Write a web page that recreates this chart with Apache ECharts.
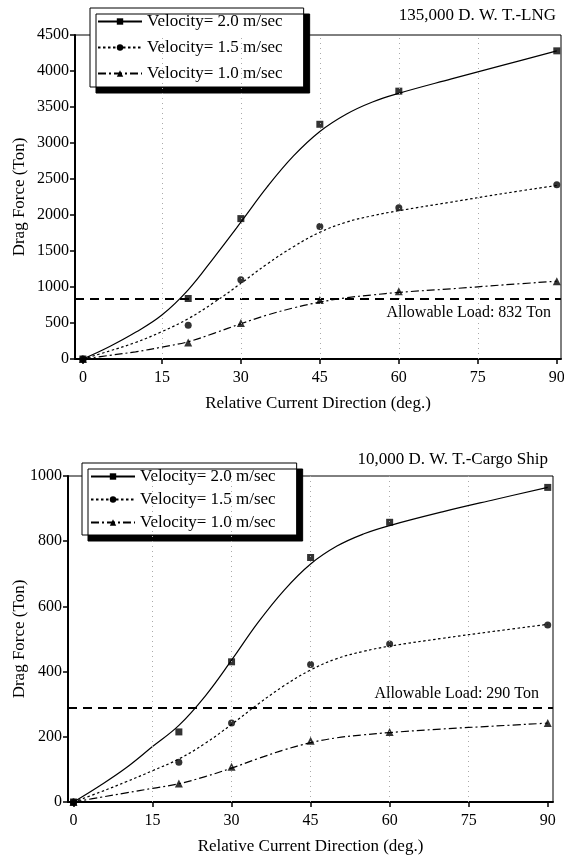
<!DOCTYPE html>
<html><head><meta charset="utf-8">
<script src="https://cdn.jsdelivr.net/npm/echarts@6/dist/echarts.min.js"></script>
<style>html,body{margin:0;padding:0;background:#fff}#c{width:564px;height:859px}</style>
</head><body><div id="c"></div>
<script>
// ---- shared ----
const xTickValues = [0, 15, 30, 45, 60, 75, 90];
const gridLineX = [15, 30, 45, 60, 75];
const pointX = [0, 20, 30, 45, 60, 90];
const curveX = [0, 5, 10, 15, 20, 25, 30, 35, 40, 45, 50, 55, 60, 70, 80, 90];
const seriesNames = ['Velocity= 2.0 m/sec', 'Velocity= 1.5 m/sec', 'Velocity= 1.0 m/sec'];

// ---- top: 135,000 D.W.T. LNG ----
const lngTitle = '135,000 D. W. T.-LNG';
const lngPts20 = [0, 840, 1950, 3260, 3720, 4280];
const lngPts15 = [0, 470, 1100, 1840, 2100, 2420];
const lngPts10 = [0, 230, 500, 820, 940, 1080];
const lngCurve20 = [0, 170, 370, 610, 960, 1420, 1900, 2390, 2820, 3160, 3400, 3570, 3690, 3890, 4085, 4280];
const lngCurve15 = [0, 110, 230, 380, 560, 790, 1050, 1320, 1560, 1760, 1900, 1990, 2060, 2180, 2300, 2410];
const lngCurve10 = [0, 50, 100, 165, 240, 360, 490, 610, 710, 790, 850, 890, 925, 975, 1030, 1080];
const lngAllowable = 832;

// ---- bottom: 10,000 D.W.T. Cargo ship ----
const cargoTitle = '10,000 D. W. T.-Cargo Ship';
const cargoPts20 = [0, 215, 430, 750, 858, 965];
const cargoPts15 = [0, 122, 242, 422, 485, 543];
const cargoPts10 = [0, 57, 108, 188, 215, 242];
const cargoCurve20 = [0, 50, 105, 170, 235, 325, 435, 550, 650, 730, 785, 822, 848, 890, 928, 965];
const cargoCurve15 = [0, 30, 62, 96, 132, 180, 238, 300, 357, 405, 440, 462, 478, 502, 524, 545];
const cargoCurve10 = [0, 14, 28, 42, 56, 78, 104, 133, 160, 182, 197, 206, 213, 224, 233, 242];
const cargoAllowable = 290;

const FONT = "'Liberation Serif', 'Times New Roman', serif";
const zip = (xs, ys) => xs.map((x, i) => [x, ys[i]]);
const styles = [
  { symbol: 'rect', size: 6, dash: 'solid' },
  { symbol: 'circle', size: 6, dash: [2.5, 2.5] },
  { symbol: 'triangle', size: 7, dash: [8, 3, 2, 3] }
];

function xAxis(gi, min, max) {
  return {
    gridIndex: gi, type: 'value', min: min, max: max,
    axisLine: { show: true, onZero: false, lineStyle: { color: '#000', width: 2 } },
    axisTick: { show: true, length: 5, customValues: xTickValues, lineStyle: { color: '#000', width: 1.5 } },
    axisLabel: { customValues: xTickValues, margin: 11, fontFamily: FONT, fontSize: 16, color: '#000' },
    splitLine: { show: false },
    name: 'Relative Current Direction (deg.)', nameLocation: 'middle', nameGap: 36,
    nameTextStyle: { fontFamily: FONT, fontSize: 17, color: '#000' }
  };
}
function yAxis(gi, max, interval, gap) {
  return {
    gridIndex: gi, type: 'value', min: 0, max: max, interval: interval,
    axisLine: { show: true, onZero: false, lineStyle: { color: '#000', width: 2 } },
    axisTick: { show: true, length: 5, lineStyle: { color: '#000', width: 1.5 } },
    axisLabel: { margin: 6, fontFamily: FONT, fontSize: 16, color: '#000', formatter: v => String(v) },
    splitLine: { show: false },
    name: 'Drag Force (Ton)', nameLocation: 'middle', nameGap: gap, nameRotate: 90,
    nameMoveOverlap: false,
    nameTextStyle: { fontFamily: FONT, fontSize: 17, color: '#000' }
  };
}
function buildSeries(gi, curves, pts, allowable, labelPos, labelDist) {
  const out = [];
  curves.forEach((c, i) => {
    out.push({
      type: 'line', name: seriesNames[i], xAxisIndex: gi, yAxisIndex: gi,
      data: zip(curveX, c), smooth: 0.4,
      symbol: styles[i].symbol, symbolSize: styles[i].size, showSymbol: false,
      itemStyle: { color: '#000' },
      lineStyle: { color: '#000', width: 1.2, type: styles[i].dash },
      silent: true, z: 3
    });
  });
  pts.forEach((p, i) => {
    const s = {
      type: 'scatter', name: 'pts' + gi + '_' + i, xAxisIndex: gi, yAxisIndex: gi,
      data: zip(pointX, p), symbol: styles[i].symbol, symbolSize: styles[i].size + 1,
      itemStyle: { color: '#000' }, silent: true, z: 4
    };
    if (i === 0) {
      s.markLine = {
        silent: true, symbol: 'none', animation: false,
        lineStyle: { color: '#000', width: 2, type: [9, 6] },
        label: { show: true, position: labelPos, formatter: 'Allowable Load: ' + allowable + ' Ton',
          fontFamily: FONT, fontSize: 16, color: '#000', distance: labelDist },
        data: [{ yAxis: allowable }]
      };
    }
    if (i === 2) {
      s.markLine = {
        silent: true, symbol: 'none', animation: false,
        lineStyle: { color: '#aaa', width: 1, type: [1, 4] },
        label: { show: false },
        data: gridLineX.map(v => ({ xAxis: v }))
      };
    }
    out.push(s);
  });
  return out;
}
function legend(left, top, gap, pad) {
  return {
    orient: 'vertical', left: left, top: top, itemGap: gap, itemWidth: 44, itemHeight: 8,
    padding: pad, backgroundColor: '#fff', borderColor: '#000', borderWidth: 1, borderRadius: 0,
    shadowColor: '#000', shadowBlur: 0, shadowOffsetX: 6, shadowOffsetY: 6,
    textStyle: { fontFamily: FONT, fontSize: 17, color: '#000' },
    data: seriesNames, selectedMode: false
  };
}

const chart = echarts.init(document.getElementById('c'), null, { renderer: 'canvas' });
chart.setOption({
  animation: false,
  backgroundColor: '#fff',
  title: [
    { text: lngTitle, right: 3, top: 2, textStyle: { fontFamily: FONT, fontSize: 17, fontWeight: 'normal', color: '#000' } },
    { text: cargoTitle, right: 11, top: 446, textStyle: { fontFamily: FONT, fontSize: 17, fontWeight: 'normal', color: '#000' } }
  ],
  legend: [legend(90, 8, 9, [5, 21, 5, 7]), legend(82, 463, 6, [5, 21, 4, 8])],
  grid: [
    { left: 75, right: 3, top: 35, height: 324, show: true, borderColor: '#000', borderWidth: 1, backgroundColor: 'transparent', containLabel: false, outerBoundsMode: 'none' },
    { left: 68, right: 11, top: 476, height: 326, show: true, borderColor: '#000', borderWidth: 1, backgroundColor: 'transparent', containLabel: false, outerBoundsMode: 'none' }
  ],
  xAxis: [xAxis(0, -1.5, 90.8), xAxis(1, -1.04, 91)],
  yAxis: [yAxis(0, 4500, 500, 47), yAxis(1, 1000, 200, 40)],
  series: [].concat(
    buildSeries(0, [lngCurve20, lngCurve15, lngCurve10], [lngPts20, lngPts15, lngPts10], lngAllowable, 'insideEndBottom', [10, 6]),
    buildSeries(1, [cargoCurve20, cargoCurve15, cargoCurve10], [cargoPts20, cargoPts15, cargoPts10], cargoAllowable, 'insideEndTop', [14, 6])
  )
});
</script></body></html>
